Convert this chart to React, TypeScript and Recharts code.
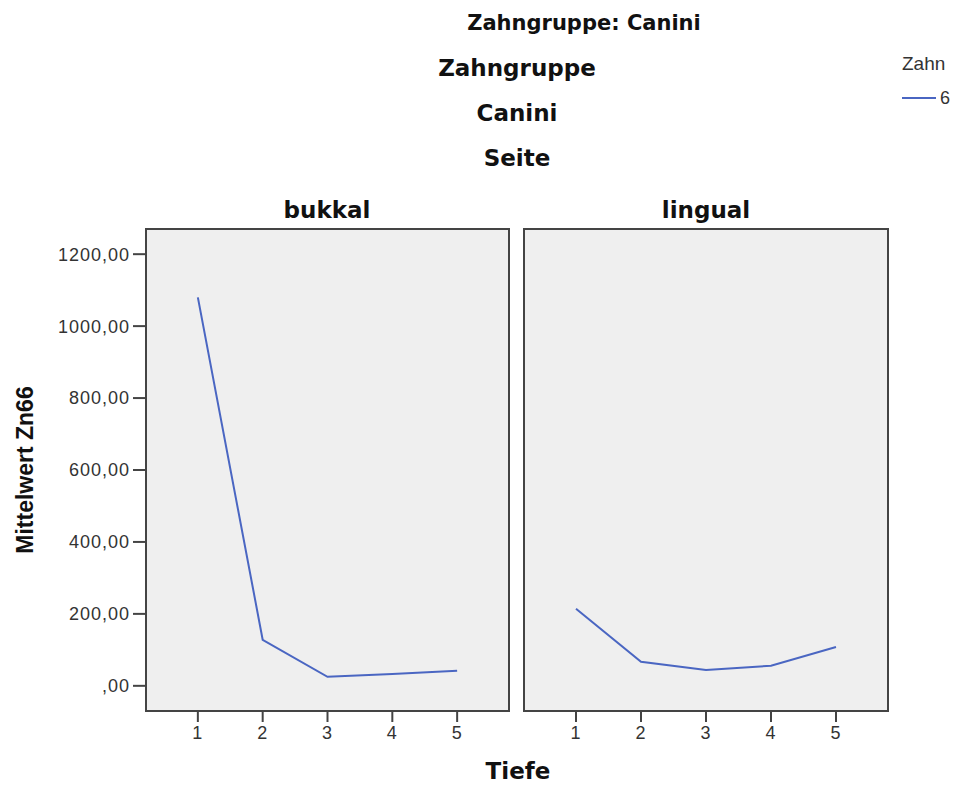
import React from "react";
import { LineChart, Line, XAxis, YAxis, ReferenceArea } from "recharts";

// Mittelwert Zn66 per Tiefe, Zahn 6, Zahngruppe Canini
const depths = [1, 2, 3, 4, 5];
const bukkalValues = [1080, 128, 25, 33, 42];
const lingualValues = [214, 67, 44, 56, 108];
const yTicks = [0, 200, 400, 600, 800, 1000, 1200];

const X_DOMAIN: [number, number] = [0.2, 5.8];
const Y_DOMAIN: [number, number] = [-70, 1270];
const LINE_COLOR = "#4a66c2";
const FRAME_COLOR = "#444";
const PANEL_FILL = "#efefef";

const bukkalData = depths.map((d, i) => ({ tiefe: d, wert: bukkalValues[i] }));
const lingualData = depths.map((d, i) => ({ tiefe: d, wert: lingualValues[i] }));

// SPSS-style number format: 1200 -> "1200,00", 0 -> ",00"
const formatTick = (v: number) => (v === 0 ? ",00" : `${v},00`);

const tickFont = {
  fill: "#333",
  fontSize: 18,
  fontFamily: "'Liberation Sans', Arial, sans-serif",
  letterSpacing: 1,
};

const boldTitle: React.CSSProperties = {
  position: "absolute",
  transform: "translate(-50%, -50%)",
  whiteSpace: "nowrap",
  fontFamily: "'DejaVu Sans', Verdana, sans-serif",
  fontWeight: "bold",
  color: "#111",
  lineHeight: 1,
};

function Panel({ data, showYAxis }: { data: { tiefe: number; wert: number }[]; showYAxis: boolean }) {
  return (
    <LineChart
      width={showYAxis ? 520 : 390}
      height={787}
      data={data}
      margin={showYAxis ? { top: 229, right: 11, bottom: 36, left: 0 } : { top: 229, right: 12, bottom: 36, left: 14 }}
    >
      <XAxis
        dataKey="tiefe"
        type="number"
        domain={X_DOMAIN}
        ticks={depths}
        allowDataOverflow
        height={40}
        axisLine={false}
        tickLine={{ stroke: FRAME_COLOR, strokeWidth: 2 }}
        tickSize={11}
        tickMargin={4}
        tick={tickFont}
      />
      <YAxis
        type="number"
        domain={Y_DOMAIN}
        ticks={yTicks}
        allowDataOverflow
        hide={!showYAxis}
        width={showYAxis ? 146 : 0}
        axisLine={false}
        tickLine={{ stroke: FRAME_COLOR, strokeWidth: 2 }}
        tickSize={13}
        tickMargin={3}
        tick={tickFont}
        tickFormatter={formatTick}
      />
      <ReferenceArea
        x1={X_DOMAIN[0]}
        x2={X_DOMAIN[1]}
        y1={Y_DOMAIN[0]}
        y2={Y_DOMAIN[1]}
        fill={PANEL_FILL}
        fillOpacity={1}
        stroke={FRAME_COLOR}
        strokeWidth={2}
      />
      <Line
        dataKey="wert"
        type="linear"
        stroke={LINE_COLOR}
        strokeWidth={2}
        dot={false}
        isAnimationActive={false}
      />
    </LineChart>
  );
}

export default function App() {
  return (
    <div
      style={{
        position: "absolute",
        left: 0,
        top: 0,
        width: 960,
        height: 787,
        background: "#fff",
        overflow: "hidden",
      }}
    >
      <div style={{ position: "absolute", left: 0, top: 0 }}>
        <Panel data={bukkalData} showYAxis />
      </div>
      <div style={{ position: "absolute", left: 510, top: 0 }}>
        <Panel data={lingualData} showYAxis={false} />
      </div>

      <div style={{ ...boldTitle, left: 584, top: 23, fontSize: 21 }}>Zahngruppe: Canini</div>
      <div style={{ ...boldTitle, left: 517, top: 68, fontSize: 23 }}>Zahngruppe</div>
      <div style={{ ...boldTitle, left: 517, top: 113, fontSize: 23 }}>Canini</div>
      <div style={{ ...boldTitle, left: 517, top: 158, fontSize: 23 }}>Seite</div>
      <div style={{ ...boldTitle, left: 327, top: 210, fontSize: 23 }}>bukkal</div>
      <div style={{ ...boldTitle, left: 706, top: 210, fontSize: 23 }}>lingual</div>
      <div style={{ ...boldTitle, left: 518, top: 771, fontSize: 23 }}>Tiefe</div>

      <div
        style={{
          position: "absolute",
          left: 25,
          top: 470,
          transform: "translate(-50%, -50%) rotate(-90deg)",
          whiteSpace: "nowrap",
          fontFamily: "'Liberation Sans', Arial, sans-serif",
          fontWeight: "bold",
          fontSize: 23,
          color: "#111",
          lineHeight: 1,
        }}
      >
        Mittelwert Zn66
      </div>

      {/* legend */}
      <div
        style={{
          position: "absolute",
          left: 902,
          top: 54,
          fontFamily: "'Liberation Sans', Arial, sans-serif",
          fontSize: 19,
          color: "#333",
          lineHeight: 1,
        }}
      >
        Zahn
      </div>
      <svg style={{ position: "absolute", left: 900, top: 88 }} width={60} height={20}>
        <line x1={2} y1={10} x2={36} y2={10} stroke={LINE_COLOR} strokeWidth={2} />
        <text
          x={40}
          y={16}
          fontFamily="'Liberation Sans', Arial, sans-serif"
          fontSize={18}
          fill="#333"
        >
          6
        </text>
      </svg>
    </div>
  );
}
